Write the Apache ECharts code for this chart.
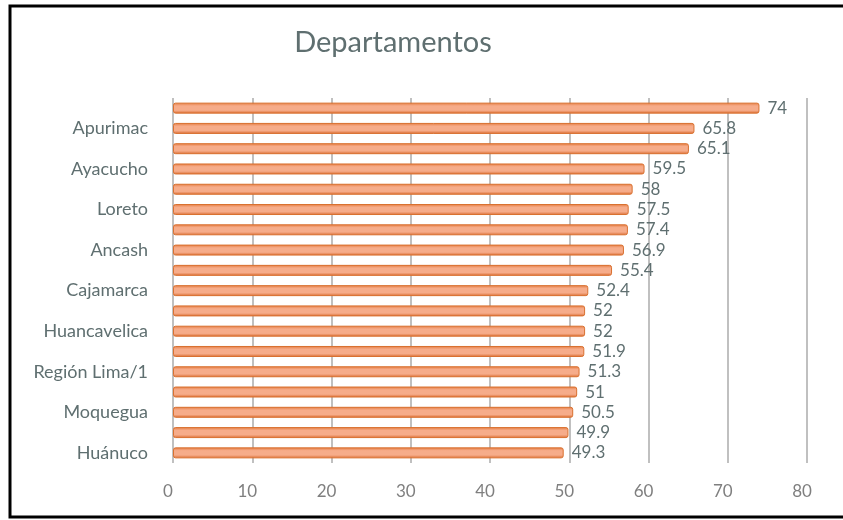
<!DOCTYPE html>
<html>
<head>
<meta charset="utf-8">
<script src="https://cdn.jsdelivr.net/npm/echarts@6/dist/echarts.min.js"></script>
<style>
  html, body { margin: 0; padding: 0; background: #fff; }
  #main { width: 843px; height: 520px; }
</style>
</head>
<body>
<div id="main"></div>
<script>
// bottom to top, as drawn on the category axis
const departamentos = [
  'Huánuco', 'Junín', 'Moquegua', 'Piura', 'Región Lima/1', 'La Libertad',
  'Huancavelica', 'San Martín', 'Cajamarca', 'Ucayali', 'Ancash', 'Pasco',
  'Loreto', 'Amazonas', 'Ayacucho', 'Cusco', 'Apurimac', 'Puno'
];
const valores = [
  49.3, 49.9, 50.5, 51, 51.3, 51.9,
  52, 52, 52.4, 55.4, 56.9, 57.4,
  57.5, 58, 59.5, 65.1, 65.8, 74
];
const ticks = [0, 10, 20, 30, 40, 50, 60, 70, 80];

const chart = echarts.init(document.getElementById('main'));

const option = {
  animation: false,
  textStyle: { fontFamily: 'Lato' },
  title: {
    text: 'Departamentos',
    left: 388,
    top: 23,
    textAlign: 'center',
    textStyle: { fontFamily: 'Lato', fontSize: 29, fontWeight: 'normal', color: '#5f6f70' }
  },
  graphic: [{
    type: 'rect',
    shape: { x: 10, y: 6, width: 850, height: 511 },
    style: { fill: 'none', stroke: '#000', lineWidth: 3 },
    silent: true
  }],
  grid: { left: 173, right: 36, top: 98, bottom: 57 },
  xAxis: {
    type: 'value',
    min: ticks[0],
    max: ticks[ticks.length - 1],
    interval: 10,
    axisLine: { show: false },
    axisTick: { show: false },
    axisLabel: { color: '#7f7f7f', fontSize: 17, margin: 20, padding: [0, 10, 0, 0] },
    splitLine: { show: true, lineStyle: { color: '#c0c0c0', width: 2 } }
  },
  yAxis: {
    type: 'category',
    data: departamentos,
    axisLine: { show: false },
    axisTick: { show: false },
    axisLabel: { interval: 1, color: '#5f6f70', fontSize: 18, margin: 25 }
  },
  series: [{
    type: 'bar',
    data: valores,
    barWidth: 11,
    itemStyle: {
      color: new echarts.graphic.LinearGradient(0, 0, 0, 1, [
        { offset: 0, color: '#e47a3e' },
        { offset: 0.3, color: '#f6ac8a' },
        { offset: 0.7, color: '#f6ac8a' },
        { offset: 1, color: '#d8692d' }
      ]),
      borderColor: '#d9702f',
      borderWidth: 1,
      borderRadius: 2
    },
    label: {
      show: true,
      position: 'right',
      distance: 8,
      color: '#5f6f70',
      fontSize: 17
    }
  }]
};

chart.setOption(option);
</script>
</body>
</html>
